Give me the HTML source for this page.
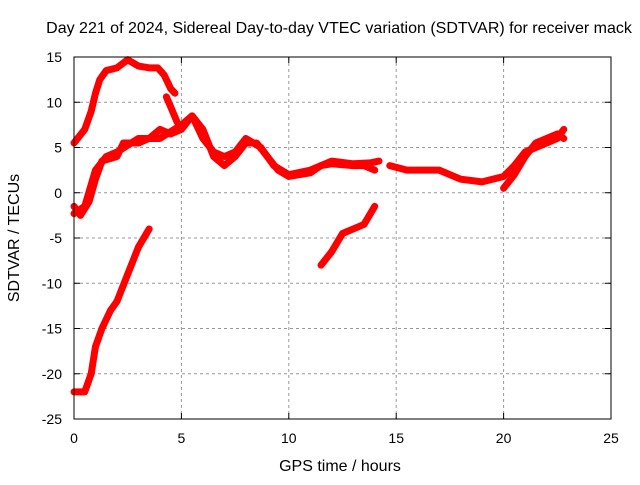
<!DOCTYPE html>
<html><head><meta charset="utf-8"><style>
body{margin:0;background:#fff;font-family:"Liberation Sans",sans-serif;}
svg text{font-family:"Liberation Sans",sans-serif;font-size:14px;fill:#000;}
svg text.big{font-size:16px;}
</style></head><body>
<svg id="chart" width="640" height="480">
<rect width="640" height="480" fill="#fff"/>
<text class="big" x="339" y="33" text-anchor="middle">Day 221 of 2024, Sidereal Day-to-day VTEC variation (SDTVAR) for receiver mack</text>
<text class="big" x="340" y="471" text-anchor="middle">GPS time / hours</text>
<text class="big" transform="translate(19,238) rotate(-90)" text-anchor="middle">SDTVAR / TECUs</text>
<g id="grid"></g><g id="series"></g>
<rect x="74" y="57" width="537" height="362" fill="none" stroke="#000" stroke-width="1"/>
</svg>
<script>
const xTicks=[0,5,10,15,20,25];
const yTicks=[-25,-20,-15,-10,-5,0,5,10,15];
const seriesA=[[0,5.5],[0.5,7],[0.8,9],[1,11],[1.2,12.5],[1.5,13.5],[2,13.8],[2.5,14.7],[3,14],[3.5,13.8],[3.9,13.8],[4.2,13],[4.5,11.5],[4.7,11]];
const seriesA2=[[4.3,10.6],[4.5,9.5],[4.8,7.8]];
const seriesB=[[0,-1.5],[0.3,-2.5],[0.7,-1],[1,1.5],[1.3,3.5],[2,4],[2.3,5.5],[3,5.5],[3.5,6],[4,7],[4.5,6.5],[5,7],[5.5,8.5],[6,7],[6.5,4],[7,3],[7.5,4],[8,5.5],[8.5,5.5],[9,4],[9.5,2.5],[10,1.8],[11,2.2],[11.5,3],[12,3.2],[13,3],[13.5,3],[14,2.5]];
const seriesB2=[[0,-2.3],[0.5,-1.5],[1,2.5],[1.5,4],[2,4.5],[3,6],[4,6],[5,7.5],[5.5,8.5],[6,6],[6.5,4.5],[7,4],[7.5,4.5],[8,6],[8.7,5],[9.3,3],[10,2],[11,2.5],[12,3.5],[13,3.2],[13.8,3.3],[14.2,3.5]];
const seriesC=[[14.7,3],[15.5,2.5],[16.5,2.5],[17,2.5],[18,1.5],[19,1.2],[20,1.8],[20.5,3],[21,4.5],[21.5,5],[22,5.5],[22.5,6],[22.8,7]];
const seriesC2=[[20,0.5],[20.5,2],[21,4],[21.5,5.5],[22,6],[22.5,6.5],[22.8,6]];
const seriesD=[[0,-22],[0.5,-22],[0.8,-20],[1,-17],[1.3,-15],[1.7,-13],[2,-12],[2.5,-9],[3,-6],[3.5,-4]];
const seriesE=[[11.5,-8],[12,-6.5],[12.5,-4.5],[13,-4],[13.5,-3.5],[14,-1.5]];
const allSeries=[seriesA,seriesA2,seriesB,seriesB2,seriesC,seriesC2,seriesD,seriesE];
const NS="http://www.w3.org/2000/svg";
const X=h=>74+h*537/25, Y=v=>57+(15-v)*362/40;
const grid=document.getElementById('grid'), ser=document.getElementById('series');
function mk(t,a,p){const e=document.createElementNS(NS,t);for(const k in a)e.setAttribute(k,a[k]);p.appendChild(e);return e;}
xTicks.forEach(t=>{
 if(t>0&&t<25){const l=mk('line',{x1:X(t),x2:X(t),y1:57,y2:419,stroke:'#999','stroke-dasharray':'3,3'},grid);
 
 }
 mk('line',{x1:X(t),x2:X(t),y1:419,y2:413,stroke:'#000'},grid);
 mk('line',{x1:X(t),x2:X(t),y1:57,y2:63,stroke:'#000'},grid);
 const tx=mk('text',{x:X(t),y:443,'text-anchor':'middle'},grid);tx.textContent=t;
 
 
});
yTicks.forEach(t=>{
 if(t>-25&&t<15){const l=mk('line',{x1:74,x2:611,y1:Y(t),y2:Y(t),stroke:'#999','stroke-dasharray':'3,3'},grid);
 
 }
 mk('line',{x1:74,x2:80,y1:Y(t),y2:Y(t),stroke:'#000'},grid);
 mk('line',{x1:605,x2:611,y1:Y(t),y2:Y(t),stroke:'#000'},grid);
 const tx=mk('text',{x:62,y:Y(t)+5,'text-anchor':'end'},grid);tx.textContent=t;
 
 
});
allSeries.forEach(s=>{
 const p=mk('polyline',{points:s.map(d=>X(d[0])+','+Y(d[1])).join(' '),fill:'none',stroke:'#f00','stroke-width':7,'stroke-linejoin':'round','stroke-linecap':'round'},ser);
 
 
});
</script>
</body></html>
